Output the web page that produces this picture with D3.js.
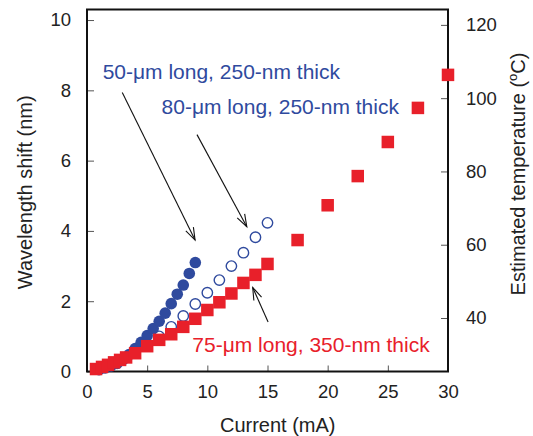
<!DOCTYPE html>
<html><head><meta charset="utf-8">
<script src="https://cdn.jsdelivr.net/npm/d3@7"></script>
<style>
body{margin:0;background:#fff;}
svg{display:block;font-family:"Liberation Sans",Arial,Helvetica,sans-serif;}
</style></head>
<body>
<svg id="chart" width="533" height="436"></svg>
<script>
// ---- data ----
const redCurrent = [0.75,1.25,1.75,2.25,2.75,3.25,4,5,6,7,8,9,10,11,12,13,14,15,17.5,20,22.5,25,27.5,30];
const redShift   = [0.07,0.13,0.19,0.26,0.33,0.40,0.52,0.72,0.90,1.06,1.27,1.50,1.75,1.97,2.22,2.52,2.75,3.06,3.74,4.73,5.56,6.53,7.50,8.44];
const blueFilledCurrent = [1,1.5,2,2.5,3,3.5,4,4.5,5,5.5,6,6.5,7,7.5,8,8.5,9];
const blueFilledShift   = [0.05,0.1,0.16,0.23,0.34,0.48,0.65,0.83,1.02,1.22,1.43,1.66,1.93,2.2,2.46,2.79,3.1];
const blueOpenCurrent = [1,2,3,4,5,6,7,8,9,10,11,12,13,14,15];
const blueOpenShift   = [0.07,0.2,0.36,0.56,0.78,1.0,1.27,1.58,1.92,2.24,2.6,3.0,3.38,3.82,4.23];
const xTicks = [0,5,10,15,20,25,30];
const yTicks = [0,2,4,6,8,10];
const tTicks = [40,60,80,100,120];
const labels = ["50-\u03bcm long, 250-nm thick","80-\u03bcm long, 250-nm thick","75-\u03bcm long, 350-nm thick"];
// annotation anchors in data units
const labelPos = [[1.3,8.32],[6.2,7.33],[8.75,0.56]];
const arrows = [ // [x0,y0,x1,y1] tail -> tip
  [2.93,7.94,8.98,3.74],
  [9.14,6.74,13.28,4.12],
  [15.05,1.41,13.77,2.39]
];

// ---- layout ----
const W=533,H=436;
const m={l:87,t:9.5,r:85,b:64.5};
const svg=d3.select("#chart");
const x=d3.scaleLinear().domain([0,30]).range([m.l,W-m.r]);
const y=d3.scaleLinear().domain([0,10.3]).range([H-m.b,m.t]);
const yT=d3.scaleLinear().domain([25.4,124.2]).range([H-m.b,m.t]);
const RED="#e8202a", BLUE="#2f4a9e", TXT="#222";

// axes
const gx=svg.append("g").attr("transform",`translate(0,${H-m.b})`)
  .call(d3.axisBottom(x).tickValues(xTicks).tickSizeInner(-6).tickSizeOuter(0).tickPadding(13));
const gy=svg.append("g").attr("transform",`translate(${m.l},0)`)
  .call(d3.axisLeft(y).tickValues(yTicks).tickSizeInner(-7).tickSizeOuter(0).tickPadding(16));
const gr=svg.append("g").attr("transform",`translate(${W-m.r},0)`)
  .call(d3.axisRight(yT).tickValues(tTicks).tickSizeInner(-7).tickSizeOuter(0).tickPadding(18));
[gx,gy,gr].forEach(g=>{
  g.select(".domain").remove();
  g.selectAll(".tick line").attr("stroke","#555").attr("stroke-width",1);
  g.selectAll(".tick text").attr("font-size",18.5).attr("fill",TXT).attr("font-family","Liberation Sans, Arial, sans-serif");
});
// frame
svg.append("rect").attr("x",m.l).attr("y",m.t).attr("width",W-m.l-m.r).attr("height",H-m.t-m.b)
  .attr("fill","none").attr("stroke","#111").attr("stroke-width",2);

// titles
svg.append("text").attr("x",x(15.85)).attr("y",432).attr("text-anchor","middle")
  .attr("font-size",20).attr("fill",TXT).text("Current (mA)");
svg.append("text").attr("transform",`translate(32,${y(5.1)}) rotate(-90)`).attr("text-anchor","middle")
  .attr("font-size",20).attr("fill",TXT).text("Wavelength shift (nm)");
const rt=svg.append("text").attr("transform",`translate(525,${yT(79.3)}) rotate(-90)`).attr("text-anchor","middle")
  .attr("font-size",20).attr("fill",TXT);
rt.append("tspan").text("Estimated temperature (");
rt.append("tspan").attr("font-size",13).attr("dy",-8).text("o");
rt.append("tspan").attr("dy",8).text("C)");

// marks
const openData=blueOpenCurrent.map((c,i)=>[c,blueOpenShift[i]]);
const filledData=blueFilledCurrent.map((c,i)=>[c,blueFilledShift[i]]);
const redData=redCurrent.map((c,i)=>[c,redShift[i]]);
svg.append("g").selectAll("circle").data(openData).join("circle")
  .attr("cx",d=>x(d[0])).attr("cy",d=>y(d[1])).attr("r",5.2)
  .attr("fill","none").attr("stroke",BLUE).attr("stroke-width",1.4);
svg.append("g").selectAll("circle").data(filledData).join("circle")
  .attr("cx",d=>x(d[0])).attr("cy",d=>y(d[1])).attr("r",5.8).attr("fill",BLUE);
const S=12.5;
svg.append("g").selectAll("rect").data(redData).join("rect")
  .attr("x",d=>x(d[0])-S/2).attr("y",d=>y(d[1])-S/2).attr("width",S).attr("height",S).attr("fill",RED);

// annotations
const colors=[BLUE,BLUE,RED];
labels.forEach((t,i)=>{
  svg.append("text").attr("x",x(labelPos[i][0])).attr("y",y(labelPos[i][1]))
    .attr("font-size",21).attr("fill",colors[i]).text(t);
});
arrows.forEach(a=>{
  const x0=x(a[0]),y0=y(a[1]),x1=x(a[2]),y1=y(a[3]);
  const ang=Math.atan2(y1-y0,x1-x0), L=13, hw=0.33;
  const g=svg.append("g").attr("stroke","#111").attr("stroke-width",1.1).attr("fill","none");
  g.append("line").attr("x1",x0).attr("y1",y0).attr("x2",x1).attr("y2",y1);
  g.append("path").attr("d",`M${x1-L*Math.cos(ang-hw)},${y1-L*Math.sin(ang-hw)}L${x1},${y1}L${x1-L*Math.cos(ang+hw)},${y1-L*Math.sin(ang+hw)}`);
});
</script>
</body></html>
